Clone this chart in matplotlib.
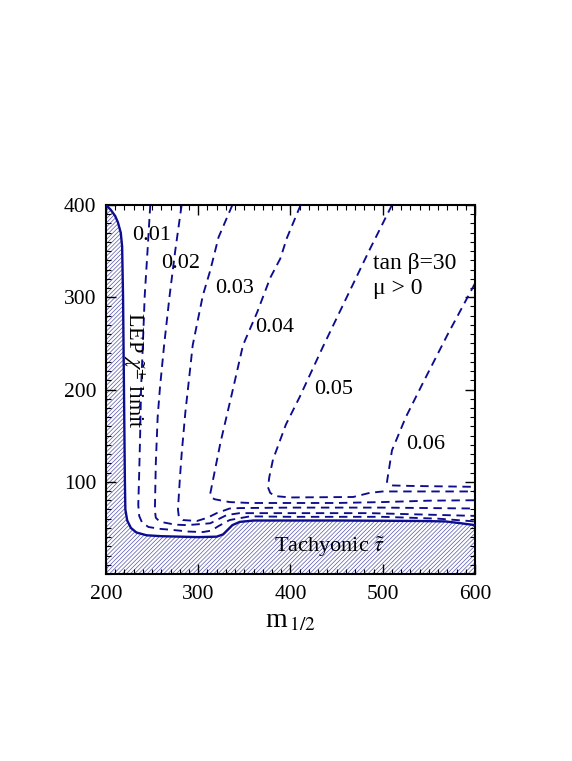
import numpy as np
import matplotlib
matplotlib.use("Agg")
import matplotlib.pyplot as plt

plt.rcParams['font.family'] = ['Liberation Serif', 'DejaVu Serif']
plt.rcParams['mathtext.fontset'] = 'stix'
plt.rcParams['hatch.linewidth'] = 0.5

navy = '#0c0c8e'

# excluded region boundary (LEP chargino limit + tachyonic stau)
bound_x = [200, 205, 210, 213, 216, 217.5, 218.5, 219.5, 220.5, 221, 223, 227, 233, 244, 260, 300, 320, 327, 332, 337, 345, 360, 450, 540, 568, 585, 600]
bound_y = [400, 395, 388, 381, 370, 355, 300, 200, 100, 70, 58, 50, 45, 42, 41, 40, 40.5, 43, 48, 53, 56.5, 58, 58, 57.5, 57, 55, 53]

# dashed contours of the quantity, one per level
levels = ['0.01', '0.02', '0.03', '0.04', '0.05', '0.06']
c01_x = [248, 245, 242, 240, 238, 237, 236, 235, 236, 239, 246, 258, 270, 290, 305, 314, 322, 334, 356, 400, 450, 500, 560, 600]
c01_y = [400, 350, 302, 250, 200, 150, 110, 75, 63, 56, 51, 49, 48, 46, 45.5, 47, 52, 58.5, 62.5, 62, 62, 62, 60, 57]
c02_x = [282, 275, 269, 263, 258.5, 256, 254, 253, 254, 257, 262, 275, 288, 313, 331, 345, 400, 486, 600]
c02_y = [400, 350, 302, 248, 202, 170, 120, 69, 61, 58, 56, 53.5, 53, 55, 64, 66, 66, 66, 63]
c03_x = [337, 322, 313, 305, 294, 289, 286, 282, 280, 278, 279, 283.5, 298.6, 310, 320, 334, 345, 400, 500, 600]
c03_y = [400, 365, 329, 302, 248, 202, 175, 130, 102, 70, 62, 58.5, 57.5, 61, 66, 71, 71.5, 72, 72, 71]
c04_x = [411, 396, 389, 378, 364, 348.5, 338, 324, 316, 313, 315, 318, 334, 356, 450, 500, 550, 600]
c04_y = [400, 364, 342, 321, 284, 248, 202, 142, 102, 87, 82.5, 81, 78, 77, 77, 78, 79.5, 80]
c05_x = [510, 485, 460, 435, 410, 395, 381, 377, 375.6, 378, 383, 400, 468, 486, 500, 600]
c05_y = [400, 350, 298, 246, 192, 162, 124, 105, 94, 88, 84.5, 83, 83.5, 88, 89.5, 89.5]
c06_x = [600, 570, 544, 525, 510, 504.6, 506, 511, 530, 600]
c06_y = [315, 259, 208, 170, 134, 100, 97.5, 96, 95.5, 94.5]
contours_x = [c01_x, c02_x, c03_x, c04_x, c05_x, c06_x]
contours_y = [c01_y, c02_y, c03_y, c04_y, c05_y, c06_y]
label_x = [249, 281, 339, 383, 447, 546]
label_y = [367, 337, 309, 267, 200, 140]

fig = plt.figure(figsize=(5.72, 7.61), dpi=100)
ax = fig.add_axes([0.1853, 0.2457, 0.6451, 0.4849])

# hatched excluded region
ax.fill(bound_x + [600, 200], bound_y + [0, 0], facecolor='white',
        edgecolor='#5656b0', hatch='////////', linewidth=0, zorder=1)
ax.plot(bound_x, bound_y, color=navy, lw=1.7, zorder=3)

for cx, cy in zip(contours_x, contours_y):
    ax.plot(cx, cy, color=navy, lw=1.35, linestyle=(0, (4.5, 3)), zorder=2)

for lev, lx, ly in zip(levels, label_x, label_y):
    ax.text(lx, ly, lev, fontsize=16, ha='center', va='center', zorder=4)

ax.text(489, 337, 'tan β=30', fontsize=17, ha='left', va='center')
ax.text(489, 309, 'μ > 0', fontsize=17, ha='left', va='center')
ax.text(229, 221, r'LEP $\tilde{\chi}^{\pm}$ limit', fontsize=16, rotation=-90,
        ha='center', va='center', zorder=4)
ax.text(442, 29, r'Tachyonic $\tilde{\tau}$', fontsize=16, ha='center', va='center', zorder=4)

ax.set_xlim(200, 600)
ax.set_ylim(0, 400)
ax.set_xticks([200, 300, 400, 500, 600])
ax.set_yticks([100, 200, 300, 400])
ax.set_xticks(np.arange(200, 601, 10), minor=True)
ax.set_yticks(np.arange(0, 401, 10), minor=True)
ax.tick_params(which='both', direction='in', top=True, right=True, labelsize=15.5)
ax.tick_params(which='major', length=7, width=1)
ax.tick_params(which='minor', length=3.5, width=0.8)
ax.tick_params(axis='x', pad=8)
ax.tick_params(axis='y', pad=7)
for s in ax.spines.values():
    s.set_linewidth(1.5)

ax.set_xlabel(r'm$_{\,1/2}$', fontsize=20, labelpad=3)

fig.savefig('out.png', dpi=100)
